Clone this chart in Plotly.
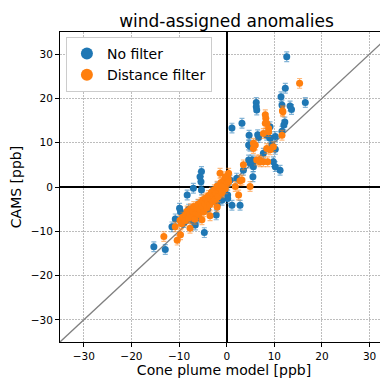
import plotly.graph_objects as go

# No filter (blue)
nofilter_x = [12.6, 12.3, 16.5, 11.4, 11.6, 6.2, 6.2, 6.3, 13.3, 13.6, 12.2, 12.0, 11.6, 9.1, 3.2, 1.1,
              4.7, 6.5, 6.7, 8.4, 9.1, 10.2, 4.6, 4.9, 9.5, 10.2, 7.7, 5.3, 5.6, 4.6, 4.9, 5.6, 9.8, 10.2,
              11.2, 5.5, 3.5, 2.1, 0.7, 0.2, 0.2, 1.1, 2.8, -2.2, -4.7, -5.3, -5.6, -5.4, -7.0, -5.3, -8.3,
              -10.8, -11.5, -9.7, -6.6, -15.3, -12.9, -9.9, -7.0, -3.0, -8.0, -7.0, -6.0, -4.0, -3.0, -2.0,
              -1.0, -9.0, -8.0, -2.0, -1.0, 0.0, -4.0, -6.0, 0.4]
nofilter_y = [29.4, 22.3, 19.1, 20.4, 18.5, 19.1, 18.1, 17.4, 18.3, 17.5, 14.7, 14.0, 12.6, 13.6, 14.4, 13.3,
              11.7, 11.8, 11.2, 11.7, 11.0, 11.4, 9.5, 9.2, 9.5, 8.5, 7.6, 6.1, 4.6, 6.1, 5.4, 5.7, 5.7, 4.6,
              3.8, 2.3, 3.8, 2.0, 1.6, -1.8, -2.6, -4.1, -4.1, -6.3, -10.3, 3.5, 2.3, 1.2, -0.3, -0.7, -1.8,
              -7.2, -9.0, -5.6, -8.6, -13.5, -14.1, -4.8, -7.8, -1.0, -5.0, -6.0, -4.0, -3.0, -2.0, 0.0,
              -1.0, -8.0, -7.0, -4.0, -3.0, 0.5, -5.0, -7.0, 1.6]

# Distance filter (orange)
distance_x = [15.3, 11.7, 11.8, 8.1, 8.2, 8.1, 8.4, 8.8, 8.8, 7.7, 11.6, 6.0, 5.6, 5.6, 8.4, 9.1, 9.8,
              6.3, 6.9, 7.7, 8.6, 7.0, 3.5, 3.2, 2.8, 4.9, 2.5, 1.8,
              -13.2, -10.4, -9.7, -10.8,
              -9.8, -9.5, -9.2, -8.8, -8.6, -8.3, -8.0, -7.8, -7.6, -7.3, -7.1, -6.9, -6.7, -6.4, -6.2,
              -6.0, -5.8, -5.6, -5.4, -5.2, -5.0, -4.8, -4.6, -4.4, -4.2, -4.0, -3.8, -3.6, -3.4, -3.2,
              -3.0, -2.8, -2.6, -2.4, -2.2, -2.0, -1.8, -1.6, -1.4, -1.2, -1.0, -0.8, -0.5, -0.3, 0.0,
              0.3, -1.4, 0.4, -0.3, 0.4, -1.0, -1.0, -7.7, -5.2, -3.5, -2.0]
distance_y = [23.4, 17.2, 17.0, 16.3, 15.5, 14.4, 14.4, 13.2, 12.5, 12.1, 11.7, 9.5, 8.7, 9.9, 8.7, 8.4, 9.1,
              6.1, 6.1, 5.7, 5.7, 5.7, 5.0, 1.6, 1.4, 0.1, -1.8, 0.1,
              -11.2, -12.0, -10.8, -9.0,
              -7.5, -8.3, -6.8, -7.6, -6.2, -5.4, -7.0, -6.0, -4.9, -6.6, -5.5, -4.4, -7.3, -5.8, -4.8,
              -3.9, -6.2, -5.1, -3.5, -4.4, -2.9, -5.6, -3.8, -2.5, -4.7, -3.1, -1.9, -4.0, -2.6, -1.2,
              -3.4, -2.0, -0.6, -2.8, -1.4, 0.2, -2.2, -0.8, -0.3, 1.0, -1.3, 0.4, 1.6, -0.4, 0.8,
              1.9, 3.1, 3.1, 2.3, 1.2, 0.0, -1.0, -9.3, -7.4, -6.5, -4.5]

error_ppb = 1.1

axis_range = [-35, 35]
tick_vals = [-30, -20, -10, 0, 10, 20, 30]

BLUE = "#1f77b4"
ORANGE = "#ff7f0e"

# page offsets the figure by the body margin (8 px), so the figure is 8 px smaller
W, H = 380, 371

fig = go.Figure()

fig.add_trace(go.Scatter(x=axis_range, y=axis_range, mode="lines",
                         line=dict(color="#808080", width=1.3), showlegend=False, hoverinfo="skip"))

fig.add_trace(go.Scatter(
    x=nofilter_x, y=nofilter_y, mode="markers", name="No filter",
    marker=dict(color=BLUE, size=7),
    error_y=dict(type="constant", value=error_ppb, color="rgba(31,119,180,0.55)", thickness=1.2, width=2.5),
))
fig.add_trace(go.Scatter(
    x=distance_x, y=distance_y, mode="markers", name="Distance filter",
    marker=dict(color=ORANGE, size=7),
    error_y=dict(type="constant", value=error_ppb, color="rgba(255,127,14,0.55)", thickness=1.2, width=2.5),
))

axis_common = dict(
    tickvals=tick_vals, ticks="outside", ticklen=4, tickcolor="black", tickwidth=1,
    showline=True, linecolor="black", linewidth=1,
    showgrid=True, gridcolor="#bdbdbd", griddash="1.5px,1.5px", gridwidth=0.8,
    zeroline=True, zerolinecolor="black", zerolinewidth=1.6,
    tickfont=dict(family="DejaVu Sans", size=10.5, color="black"),
    automargin=False,
)

fig.update_layout(
    width=W, height=H,
    margin=dict(l=52, r=0, t=24, b=37),
    paper_bgcolor="white", plot_bgcolor="white",
    font=dict(family="DejaVu Sans", color="black"),
    title=dict(text="wind-assigned anomalies", x=218.5 / W, xanchor="center",
               y=1 - 13 / H, yanchor="middle", yref="container",
               font=dict(family="DejaVu Sans", size=17, color="black")),
    xaxis=dict(range=[-35, 33.86], mirror=True,
               title=dict(text="Cone plume model [ppb]", font=dict(size=14, family="DejaVu Sans"), standoff=4),
               **axis_common),
    yaxis=dict(range=axis_range, mirror=False,
               title=dict(text="CAMS [ppb]", font=dict(size=14, family="DejaVu Sans"), standoff=9),
               **axis_common),
    legend=dict(x=0.018, y=0.984, xanchor="left", yanchor="top",
                bgcolor="white", bordercolor="#cccccc", borderwidth=1,
                font=dict(family="DejaVu Sans", size=14, color="black"),
                itemsizing="constant"),
    showlegend=True,
)

fig.write_html("out.html")
